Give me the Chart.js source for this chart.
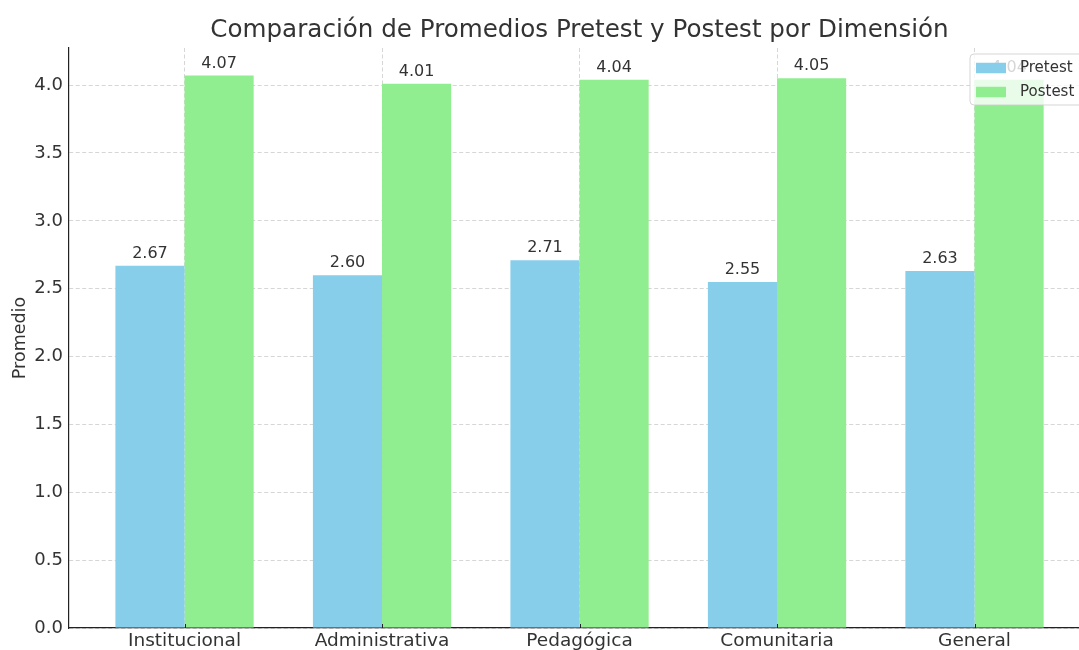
<!DOCTYPE html>
<html>
<head>
<meta charset="utf-8">
<script src="https://cdn.jsdelivr.net/npm/chart.js@4.4.0/dist/chart.umd.min.js"></script>
<style>
  html, body { margin: 0; padding: 0; background: #fff; }
  #wrap { width: 1079px; height: 650px; }
</style>
</head>
<body>
<div id="wrap"><canvas id="myChart" width="1079" height="650"></canvas></div>
<script>
// data
const chartTitle = "Comparación de Promedios Pretest y Postest por Dimensión";
const categories = ["Institucional", "Administrativa", "Pedagógica", "Comunitaria", "General"];
const pretest = [2.67, 2.60, 2.71, 2.55, 2.63];
const postest = [4.07, 4.01, 4.04, 4.05, 4.04];
const yTicks = [0, 0.5, 1, 1.5, 2, 2.5, 3, 3.5, 4];

const FONT = "'DejaVu Sans', sans-serif";
const TEXT = "#333333";

// title centred over the plot area (not the whole canvas)
const plotTitle = {
  id: "plotTitle",
  afterDraw(chart) {
    const ctx = chart.ctx;
    const area = chart.chartArea;
    // the axes in the reference run ~11px past the right edge
    const cx = (area.left + area.right + 11) / 2;
    ctx.save();
    ctx.font = "24.6px " + FONT;
    ctx.fillStyle = TEXT;
    ctx.textAlign = "center";
    ctx.textBaseline = "alphabetic";
    ctx.fillText(chartTitle, cx, 37);
    ctx.restore();
  }
};

// small inward tick marks on the category axis
const innerTicks = {
  id: "innerTicks",
  afterDatasetsDraw(chart) {
    const ctx = chart.ctx;
    const sx = chart.scales.x;
    ctx.save();
    ctx.strokeStyle = "#222222";
    ctx.lineWidth = 1;
    sx.ticks.forEach((t, i) => {
      const px = Math.round(sx.getPixelForTick(i)) + 0.5;
      ctx.beginPath();
      ctx.moveTo(px, sx.top);
      ctx.lineTo(px, sx.top - 4);
      ctx.stroke();
    });
    ctx.restore();
  }
};

// numbers over each bar
const valueLabels = {
  id: "valueLabels",
  afterDatasetsDraw(chart) {
    const ctx = chart.ctx;
    ctx.save();
    ctx.font = "16px " + FONT;
    ctx.fillStyle = TEXT;
    ctx.textAlign = "center";
    ctx.textBaseline = "alphabetic";
    chart.data.datasets.forEach((ds, i) => {
      chart.getDatasetMeta(i).data.forEach((bar, j) => {
        ctx.fillText(ds.data[j].y.toFixed(2), bar.x, bar.y - 8);
      });
    });
    ctx.restore();
  }
};

// matplotlib-like legend box in the upper right corner
const boxLegend = {
  id: "boxLegend",
  afterDraw(chart) {
    const ctx = chart.ctx;
    const x = 970, y = 54, w = 113, h = 51;
    ctx.save();
    ctx.beginPath();
    ctx.roundRect(x, y, w, h, 4);
    ctx.fillStyle = "rgba(255,255,255,0.8)";
    ctx.fill();
    ctx.strokeStyle = "rgba(204,204,204,0.8)";
    ctx.lineWidth = 1;
    ctx.stroke();
    ctx.font = "15px " + FONT;
    ctx.textBaseline = "middle";
    ctx.textAlign = "left";
    chart.data.datasets.forEach((ds, i) => {
      const cy = 68 + i * 24;
      ctx.fillStyle = ds.backgroundColor;
      ctx.fillRect(976, cy - 5.25, 30, 10.5);
      ctx.fillStyle = TEXT;
      ctx.fillText(ds.label, 1020, cy);
    });
    ctx.restore();
  }
};

const ctx = document.getElementById("myChart").getContext("2d");
new Chart(ctx, {
  type: "bar",
  data: {
    datasets: [
      {
        label: "Pretest",
        data: pretest.map((v, i) => ({ x: i, y: v })),
        backgroundColor: "#87CEEB",
        borderWidth: 0,
        categoryPercentage: 0.7,
        barPercentage: 1.0
      },
      {
        label: "Postest",
        data: postest.map((v, i) => ({ x: i, y: v })),
        backgroundColor: "#90EE90",
        borderWidth: 0,
        categoryPercentage: 0.7,
        barPercentage: 1.0
      }
    ]
  },
  options: {
    responsive: false,
    animation: false,
    layout: { padding: { top: 48 } },
    plugins: {
      legend: { display: false },
      tooltip: { enabled: false },
      title: { display: false }
    },
    scales: {
      x: {
        type: "linear",
        offset: false,
        min: -0.585,
        max: 4.529,
        afterBuildTicks(scale) {
          scale.ticks = categories.map((c, i) => ({ value: i }));
        },
        afterFit(scale) { scale.height = 22; },
        ticks: {
          includeBounds: false,
          autoSkip: false,
          maxRotation: 0,
          padding: 2,
          color: TEXT,
          font: { family: FONT, size: 18.5 },
          callback: (v) => categories[v]
        },
        grid: {
          offset: false,
          drawTicks: false,
          color: "#cccccc",
          lineWidth: 0.8
        },
        border: { display: true, color: "#222222", width: 1.2, dash: [4, 2.5] }
      },
      y: {
        min: 0,
        max: 4.2735,
        afterBuildTicks(scale) {
          scale.ticks = yTicks.map((v) => ({ value: v }));
        },
        afterFit(scale) { scale.width = 69; },
        ticks: {
          includeBounds: false,
          padding: 6,
          color: TEXT,
          font: { family: FONT, size: 18 },
          callback: (v) => v.toFixed(1)
        },
        grid: {
          drawTicks: false,
          color: "#cccccc",
          lineWidth: 0.8
        },
        border: { display: true, color: "#222222", width: 1.2, dash: [4, 2.5] },
        title: {
          display: true,
          text: "Promedio",
          color: TEXT,
          font: { family: FONT, size: 17.5 },
          padding: { top: 9.5, bottom: 0 }
        }
      }
    }
  },
  plugins: [innerTicks, valueLabels, plotTitle, boxLegend]
});
</script>
</body>
</html>
